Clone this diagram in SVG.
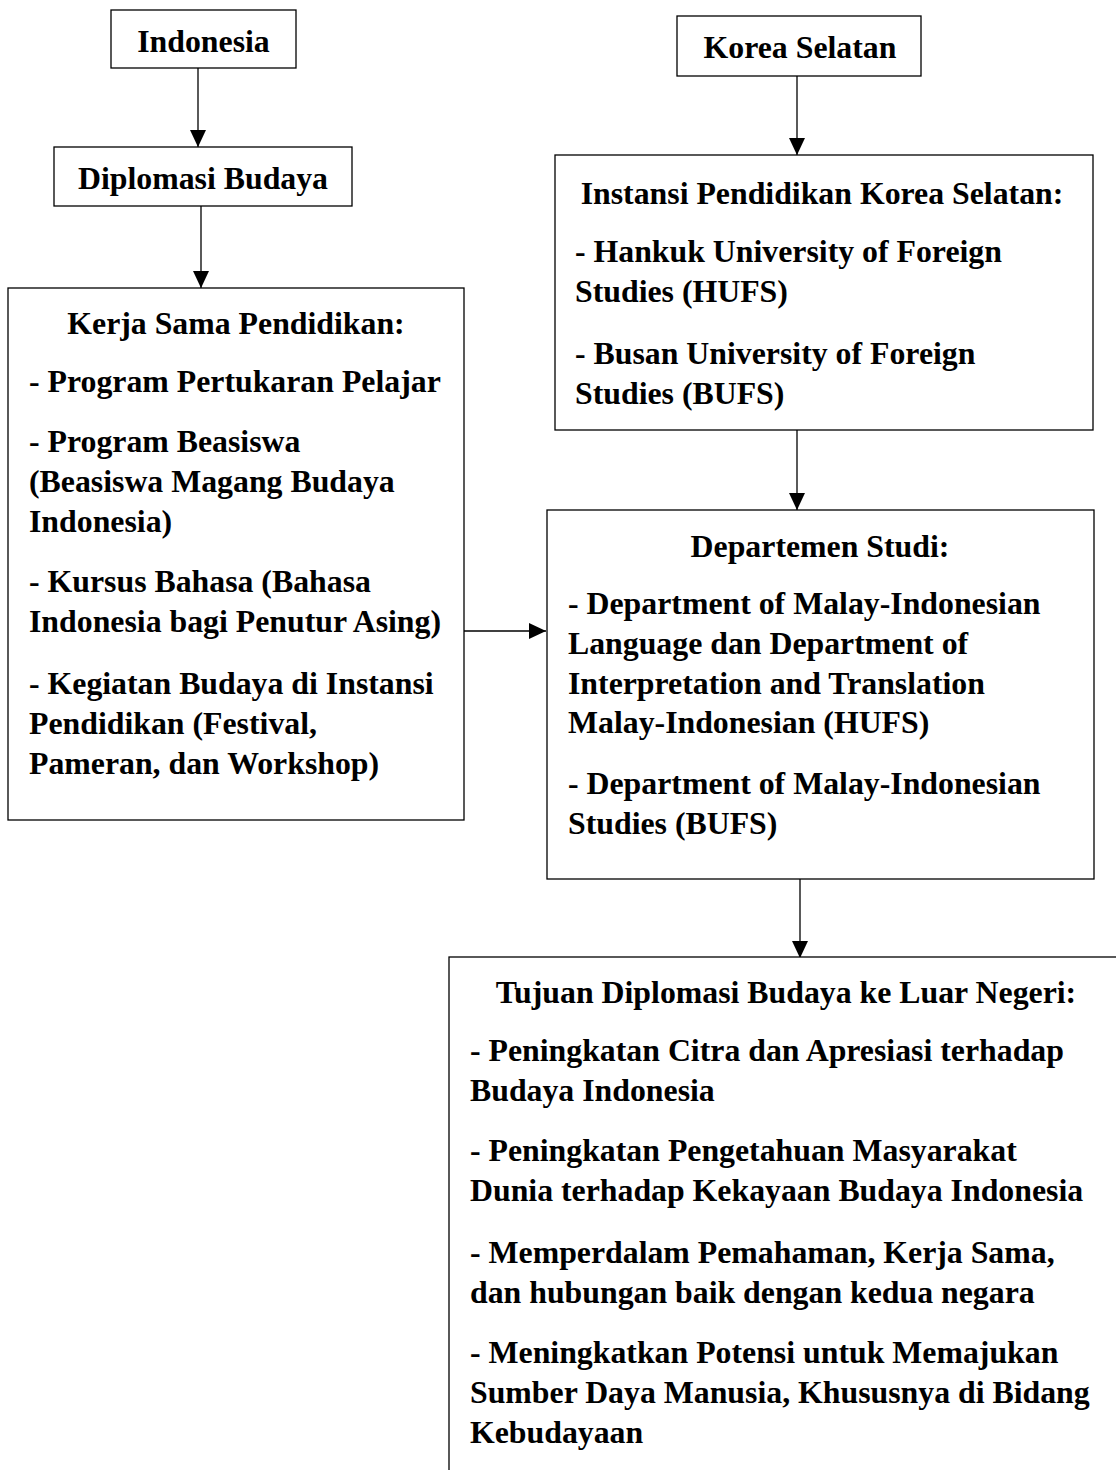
<svg xmlns="http://www.w3.org/2000/svg" width="1116" height="1470" viewBox="0 0 1116 1470">
<style>
rect.box{fill:#fff;stroke:#000;stroke-width:1.3}
text{font-family:"Liberation Serif","Times New Roman",serif;font-weight:bold;font-size:31.8px;fill:#000}
.c{text-anchor:middle}
line.con{stroke:#000;stroke-width:1.3}
</style>
<defs>
<marker id="ah" markerUnits="userSpaceOnUse" markerWidth="18" markerHeight="18" viewBox="0 0 18 18" refX="17" refY="9" orient="auto">
<path d="M0,1 L17,9 L0,17 Z" fill="#000"/>
</marker>
</defs>
<g id="connectors">
<line class="con" x1="198" y1="68" x2="198" y2="147" marker-end="url(#ah)"/>
<line class="con" x1="201" y1="206" x2="201" y2="288" marker-end="url(#ah)"/>
<line class="con" x1="797" y1="76" x2="797" y2="155" marker-end="url(#ah)"/>
<line class="con" x1="797" y1="430" x2="797" y2="510" marker-end="url(#ah)"/>
<line class="con" x1="464" y1="631" x2="546" y2="631" marker-end="url(#ah)"/>
<line class="con" x1="800" y1="879" x2="800" y2="958" marker-end="url(#ah)"/>
</g>
<g id="indonesia">
<rect class="box" x="111" y="10" width="185" height="58"/>
<text class="c" x="203.5" y="52">Indonesia</text>
</g>
<g id="diplomasi">
<rect class="box" x="54" y="147" width="298" height="59"/>
<text class="c" x="203" y="189">Diplomasi Budaya</text>
</g>
<g id="kerjasama">
<rect class="box" x="8" y="288" width="456" height="532"/>
<text class="c" x="236" y="334">Kerja Sama Pendidikan:</text>
<text x="29" y="392">- Program Pertukaran Pelajar</text>
<text x="29" y="452">- Program Beasiswa</text>
<text x="29" y="492">(Beasiswa Magang Budaya</text>
<text x="29" y="532">Indonesia)</text>
<text x="29" y="592">- Kursus Bahasa (Bahasa</text>
<text x="29" y="632">Indonesia bagi Penutur Asing)</text>
<text x="29" y="694">- Kegiatan Budaya di Instansi</text>
<text x="29" y="734">Pendidikan (Festival,</text>
<text x="29" y="774">Pameran, dan Workshop)</text>
</g>
<g id="korea">
<rect class="box" x="677" y="16" width="244" height="60"/>
<text class="c" x="800" y="58">Korea Selatan</text>
</g>
<g id="instansi">
<rect class="box" x="555" y="155" width="538" height="275"/>
<text class="c" x="822" y="204">Instansi Pendidikan Korea Selatan:</text>
<text x="575" y="262">- Hankuk University of Foreign</text>
<text x="575" y="302">Studies (HUFS)</text>
<text x="575" y="364">- Busan University of Foreign</text>
<text x="575" y="404">Studies (BUFS)</text>
</g>
<g id="departemen">
<rect class="box" x="547" y="510" width="547" height="369"/>
<text class="c" x="820" y="557">Departemen Studi:</text>
<text x="568" y="614">- Department of Malay-Indonesian</text>
<text x="568" y="654">Language dan Department of</text>
<text x="568" y="694">Interpretation and Translation</text>
<text x="568" y="733">Malay-Indonesian (HUFS)</text>
<text x="568" y="794">- Department of Malay-Indonesian</text>
<text x="568" y="834">Studies (BUFS)</text>
</g>
<g id="tujuan">
<rect class="box" x="449" y="957" width="700" height="540"/>
<text class="c" x="786" y="1003">Tujuan Diplomasi Budaya ke Luar Negeri:</text>
<text x="470" y="1061">- Peningkatan Citra dan Apresiasi terhadap</text>
<text x="470" y="1101">Budaya Indonesia</text>
<text x="470" y="1161">- Peningkatan Pengetahuan Masyarakat</text>
<text x="470" y="1201">Dunia terhadap Kekayaan Budaya Indonesia</text>
<text x="470" y="1263">- Memperdalam Pemahaman, Kerja Sama,</text>
<text x="470" y="1303">dan hubungan baik dengan kedua negara</text>
<text x="470" y="1363">- Meningkatkan Potensi untuk Memajukan</text>
<text x="470" y="1403">Sumber Daya Manusia, Khususnya di Bidang</text>
<text x="470" y="1443">Kebudayaan</text>
</g>
</svg>
